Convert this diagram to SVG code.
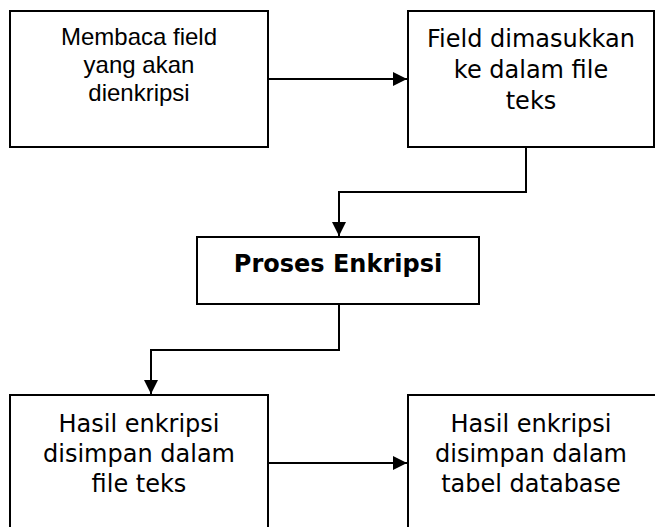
<svg xmlns="http://www.w3.org/2000/svg" width="655" height="527" viewBox="0 0 655 527">
  <defs>
    <marker id="arrow" markerWidth="14" markerHeight="14" refX="14" refY="7" orient="auto" markerUnits="userSpaceOnUse">
      <path d="M0,0 L14,7 L0,14 Z" fill="#000"/>
    </marker>
    <style>
      .box { fill: #fff; stroke: #000; stroke-width: 2; }
      .link { fill: none; stroke: #000; stroke-width: 2; marker-end: url(#arrow); }
      .arial { font-family: "Liberation Sans", Arial, sans-serif; font-size: 24px; fill: #000; text-anchor: middle; }
      .verdana { font-family: "DejaVu Sans", Verdana, sans-serif; font-size: 24px; fill: #000; text-anchor: middle; }
      .bold { font-weight: bold; }
    </style>
  </defs>
  <rect width="655" height="527" fill="#fff"/>

  <g id="read-field">
    <rect class="box" x="10" y="11" width="258" height="136"/>
    <text class="arial" x="139" y="45">Membaca field</text>
    <text class="arial" x="139" y="73">yang akan</text>
    <text class="arial" x="139" y="101">dienkripsi</text>
  </g>

  <g id="field-to-file">
    <rect class="box" x="408" y="11" width="246" height="136"/>
    <text class="verdana" x="531" y="47">Field dimasukkan</text>
    <text class="verdana" x="531" y="78">ke dalam file</text>
    <text class="verdana" x="531" y="109">teks</text>
  </g>

  <g id="encrypt">
    <rect class="box" x="197" y="237" width="282" height="67"/>
    <text class="verdana bold" x="338" y="272">Proses Enkripsi</text>
  </g>

  <g id="save-file">
    <rect class="box" x="10" y="395" width="258" height="140"/>
    <text class="verdana" x="139" y="432">Hasil enkripsi</text>
    <text class="verdana" x="139" y="462">disimpan dalam</text>
    <text class="verdana" x="139" y="492">file teks</text>
  </g>

  <g id="save-db">
    <rect class="box" x="408" y="395" width="256" height="140"/>
    <text class="verdana" x="531" y="432">Hasil enkripsi</text>
    <text class="verdana" x="531" y="462">disimpan dalam</text>
    <text class="verdana" x="531" y="492">tabel database</text>
  </g>

  <g id="connectors">
    <path class="link" d="M268,79 H407"/>
    <path class="link" d="M526,147 V192 H339 V236"/>
    <path class="link" d="M339,304 V350 H151 V394"/>
    <path class="link" d="M268,463 H407"/>
  </g>
</svg>
